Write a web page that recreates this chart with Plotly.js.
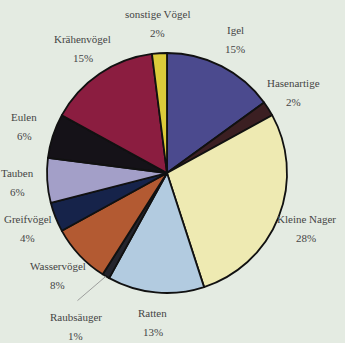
<!DOCTYPE html>
<html>
<head>
<meta charset="utf-8">
<script src="https://cdn.plot.ly/plotly-3.0.1.min.js"></script>
<style>html,body{margin:0;padding:0;background:#e4ebe2;}#chart{width:345px;height:343px;}</style>
</head>
<body>
<div id="chart"></div>
<script>
const categories = ["Igel", "Hasenartige", "Kleine Nager", "Ratten", "Raubsäuger", "Wasservögel", "Greifvögel", "Tauben", "Eulen", "Krähenvögel", "sonstige Vögel"];
const values = [15, 2, 28, 13, 1, 8, 4, 6, 6, 15, 2];
const percentLabels = ["15%", "2%", "28%", "13%", "1%", "8%", "4%", "6%", "6%", "15%", "2%"];
const colors = ["#4b4a8e", "#3b1f22", "#eeeab2", "#b2cbe0", "#24242c", "#b35a32", "#16234a", "#a39fc8", "#151218", "#8b1d40", "#dccb3a"];

const W = 345, H = 343;
const cx = 167, cy = 173, R = 120;
const dom = {x: [(cx - R) / W, (cx + R) / W], y: [1 - (cy + R) / H, 1 - (cy - R) / H]};

const total = values.reduce((a, b) => a + b, 0);
const annotations = [];
let cum = 0;
values.forEach((v, i) => {
  const mid = (cum + v / 2) / total * 2 * Math.PI;
  cum += v;
  const leader = categories[i] === "Raubsäuger";
  const dist = leader ? 1.49 : 1.25;
  const px = cx + Math.sin(mid) * R * dist;
  const py = cy - Math.cos(mid) * R * dist;
  const font = {family: "'Liberation Serif', 'Times New Roman', serif", size: 11, color: "#454545"};
  const base = {xref: "paper", yref: "paper", x: px / W, y: 1 - py / H, showarrow: false, font: font, xanchor: "center", yanchor: "middle"};
  annotations.push(Object.assign({}, base, {text: categories[i], yshift: 9.5}));
  annotations.push(Object.assign({}, base, {text: percentLabels[i], yshift: -9.5}));
  if (leader) {
    const ex = cx + Math.sin(mid) * R * 1.0, ey = cy - Math.cos(mid) * R * 1.0;
    const tx = px, ty = py - 25;
    annotations.push({xref: "paper", yref: "paper", x: ex / W, y: 1 - ey / H, ax: (tx - ex) , ay: (ty - ey), axref: "pixel", ayref: "pixel", text: "", showarrow: true, arrowhead: 0, arrowwidth: 0.8, arrowcolor: "#8a8a8a"});
  }
});

const data = [{
  type: "pie",
  labels: categories,
  values: values,
  sort: false,
  direction: "clockwise",
  rotation: 0,
  textinfo: "none",
  hoverinfo: "label+percent",
  domain: dom,
  marker: {colors: colors, line: {color: "#111111", width: 1.8}}
}];

const layout = {
  width: W, height: H,
  margin: {l: 0, r: 0, t: 0, b: 0},
  paper_bgcolor: "#e4ebe2",
  plot_bgcolor: "#e4ebe2",
  showlegend: false,
  annotations: annotations
};

Plotly.newPlot("chart", data, layout, {displayModeBar: false, staticPlot: true});
</script>
</body>
</html>
